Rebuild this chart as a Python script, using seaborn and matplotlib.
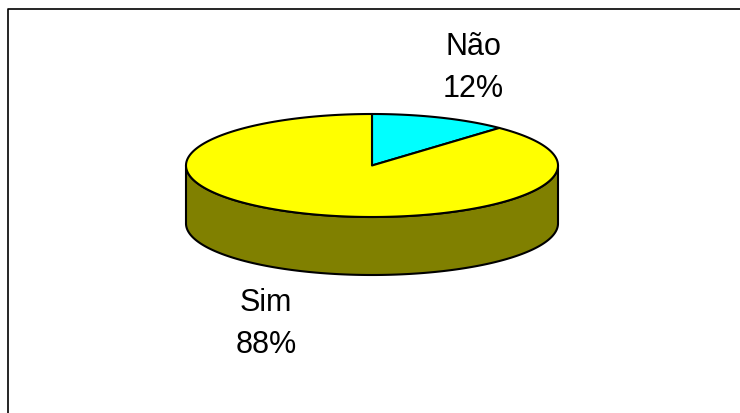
import numpy as np
import matplotlib
matplotlib.use("Agg")
import matplotlib.pyplot as plt
from matplotlib.patches import Polygon
import seaborn as sns

# Survey answers and their shares (percent)
categories = ["Não", "Sim"]
shares = [12, 88]
slice_colors = ["#00FFFF", "#FFFF00"]
side_colors = ["#008080", "#808000"]

sns.set_theme(style="white")
plt.rcParams["font.family"] = ["Liberation Sans", "DejaVu Sans"]

fig = plt.figure(figsize=(7.4, 4.14), dpi=100)
ax = fig.add_axes([0, 0, 1, 1])
ax.set_xlim(0, 740)
ax.set_ylim(414, 0)
ax.axis("off")

# Chart frame (left and top edges)
ax.plot([8, 8, 740], [414, 10, 10], color="black", lw=1.2, solid_capstyle="butt")

# 3-D pie geometry: ellipse centre, radii and thickness
cx, cy = 372.0, 166.5
rx, ry = 186.0, 51.5
depth = 58.0
edge_kw = dict(edgecolor="black", linewidth=1.5, joinstyle="round")

# Slices start at 12 o'clock and run clockwise
total = float(sum(shares))
bounds = []
start = 90.0
for s in shares:
    end = start - 360.0 * s / total
    bounds.append((start, end))
    start = end

# Side walls: only the front half (angles between -180 and 0) is visible
for (a0, a1), col in zip(bounds, side_colors):
    for shift in (0.0, -360.0, 360.0):
        h = min(a0 + shift, 0.0)
        l = max(a1 + shift, -180.0)
        if h > l:
            th = np.linspace(h, l, 200)
            xs = cx + rx * np.cos(np.radians(th))
            ys = cy - ry * np.sin(np.radians(th))
            pts = np.concatenate([
                np.column_stack([xs, ys]),
                np.column_stack([xs[::-1], ys[::-1] + depth]),
            ])
            ax.add_patch(Polygon(pts, closed=True, facecolor=col, **edge_kw))

# Top faces of the slices
for (a0, a1), col in zip(bounds, slice_colors):
    th = np.linspace(a0, a1, 300)
    xs = cx + rx * np.cos(np.radians(th))
    ys = cy - ry * np.sin(np.radians(th))
    pts = np.vstack([[cx, cy], np.column_stack([xs, ys])])
    ax.add_patch(Polygon(pts, closed=True, facecolor=col, **edge_kw))

# Category labels with percentages
label_pos = {"Não": (473, 68), "Sim": (266, 324)}
for cat, s in zip(categories, shares):
    x, y = label_pos[cat]
    ax.text(x, y, f"{cat}\n{s}%", ha="center", va="center",
            fontsize=22, linespacing=1.55, color="black")

fig.savefig("out.png", dpi=100)
